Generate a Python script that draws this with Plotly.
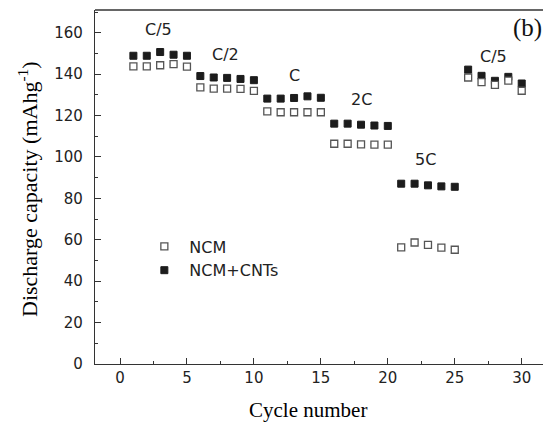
import plotly.graph_objects as go

cycles = list(range(1, 31))
ncm = [143.8, 143.8, 144.3, 144.9, 143.6,
       133.6, 133.0, 133.0, 132.9, 131.9,
       122.0, 121.6, 121.6, 121.6, 121.6,
       106.4, 106.4, 106.1, 106.0, 106.0,
       56.3, 58.7, 57.5, 56.2, 55.2,
       138.4, 136.2, 134.8, 136.9, 132.0]
ncm_cnt = [148.9, 148.9, 150.7, 149.4, 148.9,
           139.1, 138.4, 138.2, 137.7, 137.1,
           128.2, 128.2, 128.5, 129.3, 128.6,
           116.1, 116.1, 115.6, 115.2, 115.0,
           87.1, 87.1, 86.3, 85.8, 85.6,
           142.2, 139.2, 136.8, 138.7, 135.5]
rate_labels = ["C/5", "C/2", "C", "2C", "5C", "C/5"]
rate_label_x = [2.85, 7.9, 13.0, 18.05, 22.85, 27.9]
rate_label_y = [161.5, 149.4, 139.3, 127.7, 98.7, 148.5]

# plot area in pixels: left 95, right 543, top 10, bottom 364
def px(xp):
    return (xp - 95) / 448

def py(yp):
    return 1 - (yp - 10) / 354

sans = "DejaVu Sans, Arial"
serif = "Liberation Serif, Times New Roman"

fig = go.Figure()
fig.add_trace(go.Scatter(
    x=cycles, y=ncm_cnt, mode="markers", name="NCM+CNTs", legendrank=2,
    marker=dict(symbol="square", size=7, color="#1c1c1c",
                line=dict(color="#1c1c1c", width=1))))
fig.add_trace(go.Scatter(
    x=cycles, y=ncm, mode="markers", name="NCM", legendrank=1,
    marker=dict(symbol="square", size=7, color="white",
                line=dict(color="#555555", width=1.3))))

for t, xx, yy in zip(rate_labels, rate_label_x, rate_label_y):
    fig.add_annotation(x=xx, y=yy, text=t, showarrow=False,
                       font=dict(family=sans, size=16, color="#222"))

fig.add_annotation(xref="paper", yref="paper", x=px(511), y=py(28),
                   xanchor="left", yanchor="middle", text="(b)", showarrow=False,
                   font=dict(family=serif, size=25, color="#111"))

# axis titles
fig.add_annotation(xref="paper", yref="paper", x=px(308), y=py(410),
                   xanchor="center", yanchor="middle", text="Cycle number", showarrow=False,
                   font=dict(family=serif, size=21, color="#000"))
fig.add_annotation(xref="paper", yref="paper", x=px(28), y=py(189),
                   xanchor="center", yanchor="middle", textangle=-90,
                   text="Discharge capacity (mAhg<sup>-1</sup>)", showarrow=False,
                   font=dict(family=serif, size=22, color="#000"))

fig.add_shape(type="line", xref="paper", yref="paper", x0=0, x1=1, y0=1, y1=1,
              line=dict(color="#333", width=1.3))

fig.update_layout(
    width=543, height=428,
    margin=dict(l=95, r=0, t=10, b=64),
    plot_bgcolor="white", paper_bgcolor="white",
    showlegend=True,
    legend=dict(x=0.099, y=0.38, xanchor="left", yanchor="top",
                bgcolor="rgba(0,0,0,0)",
                font=dict(family=sans, size=16, color="#222"),
                itemwidth=40, tracegroupgap=0),
    xaxis=dict(range=[-1.867, 31.59], tickmode="array", tickvals=[0, 5, 10, 15, 20, 25, 30],
               ticks="inside", ticklen=6, tickwidth=1, tickcolor="#333",
               minor=dict(tickvals=[2.5, 7.5, 12.5, 17.5, 22.5, 27.5], ticks="inside",
                          ticklen=3, tickcolor="#333"),
               showline=True, linecolor="#333", linewidth=1.3, mirror=False,
               showgrid=False, zeroline=False,
               tickfont=dict(family=sans, size=15, color="#222")),
    yaxis=dict(range=[0, 171], tickmode="array", tickvals=[0, 20, 40, 60, 80, 100, 120, 140, 160],
               ticks="inside", ticklen=6, tickwidth=1, tickcolor="#333",
               minor=dict(tickvals=[10, 30, 50, 70, 90, 110, 130, 150, 170], ticks="inside",
                          ticklen=3, tickcolor="#333"),
               showline=True, linecolor="#333", linewidth=1.3, mirror=False,
               showgrid=False, zeroline=False, ticklabelstandoff=8,
               tickfont=dict(family=sans, size=15, color="#222")),
)

fig.write_html("out.html")
